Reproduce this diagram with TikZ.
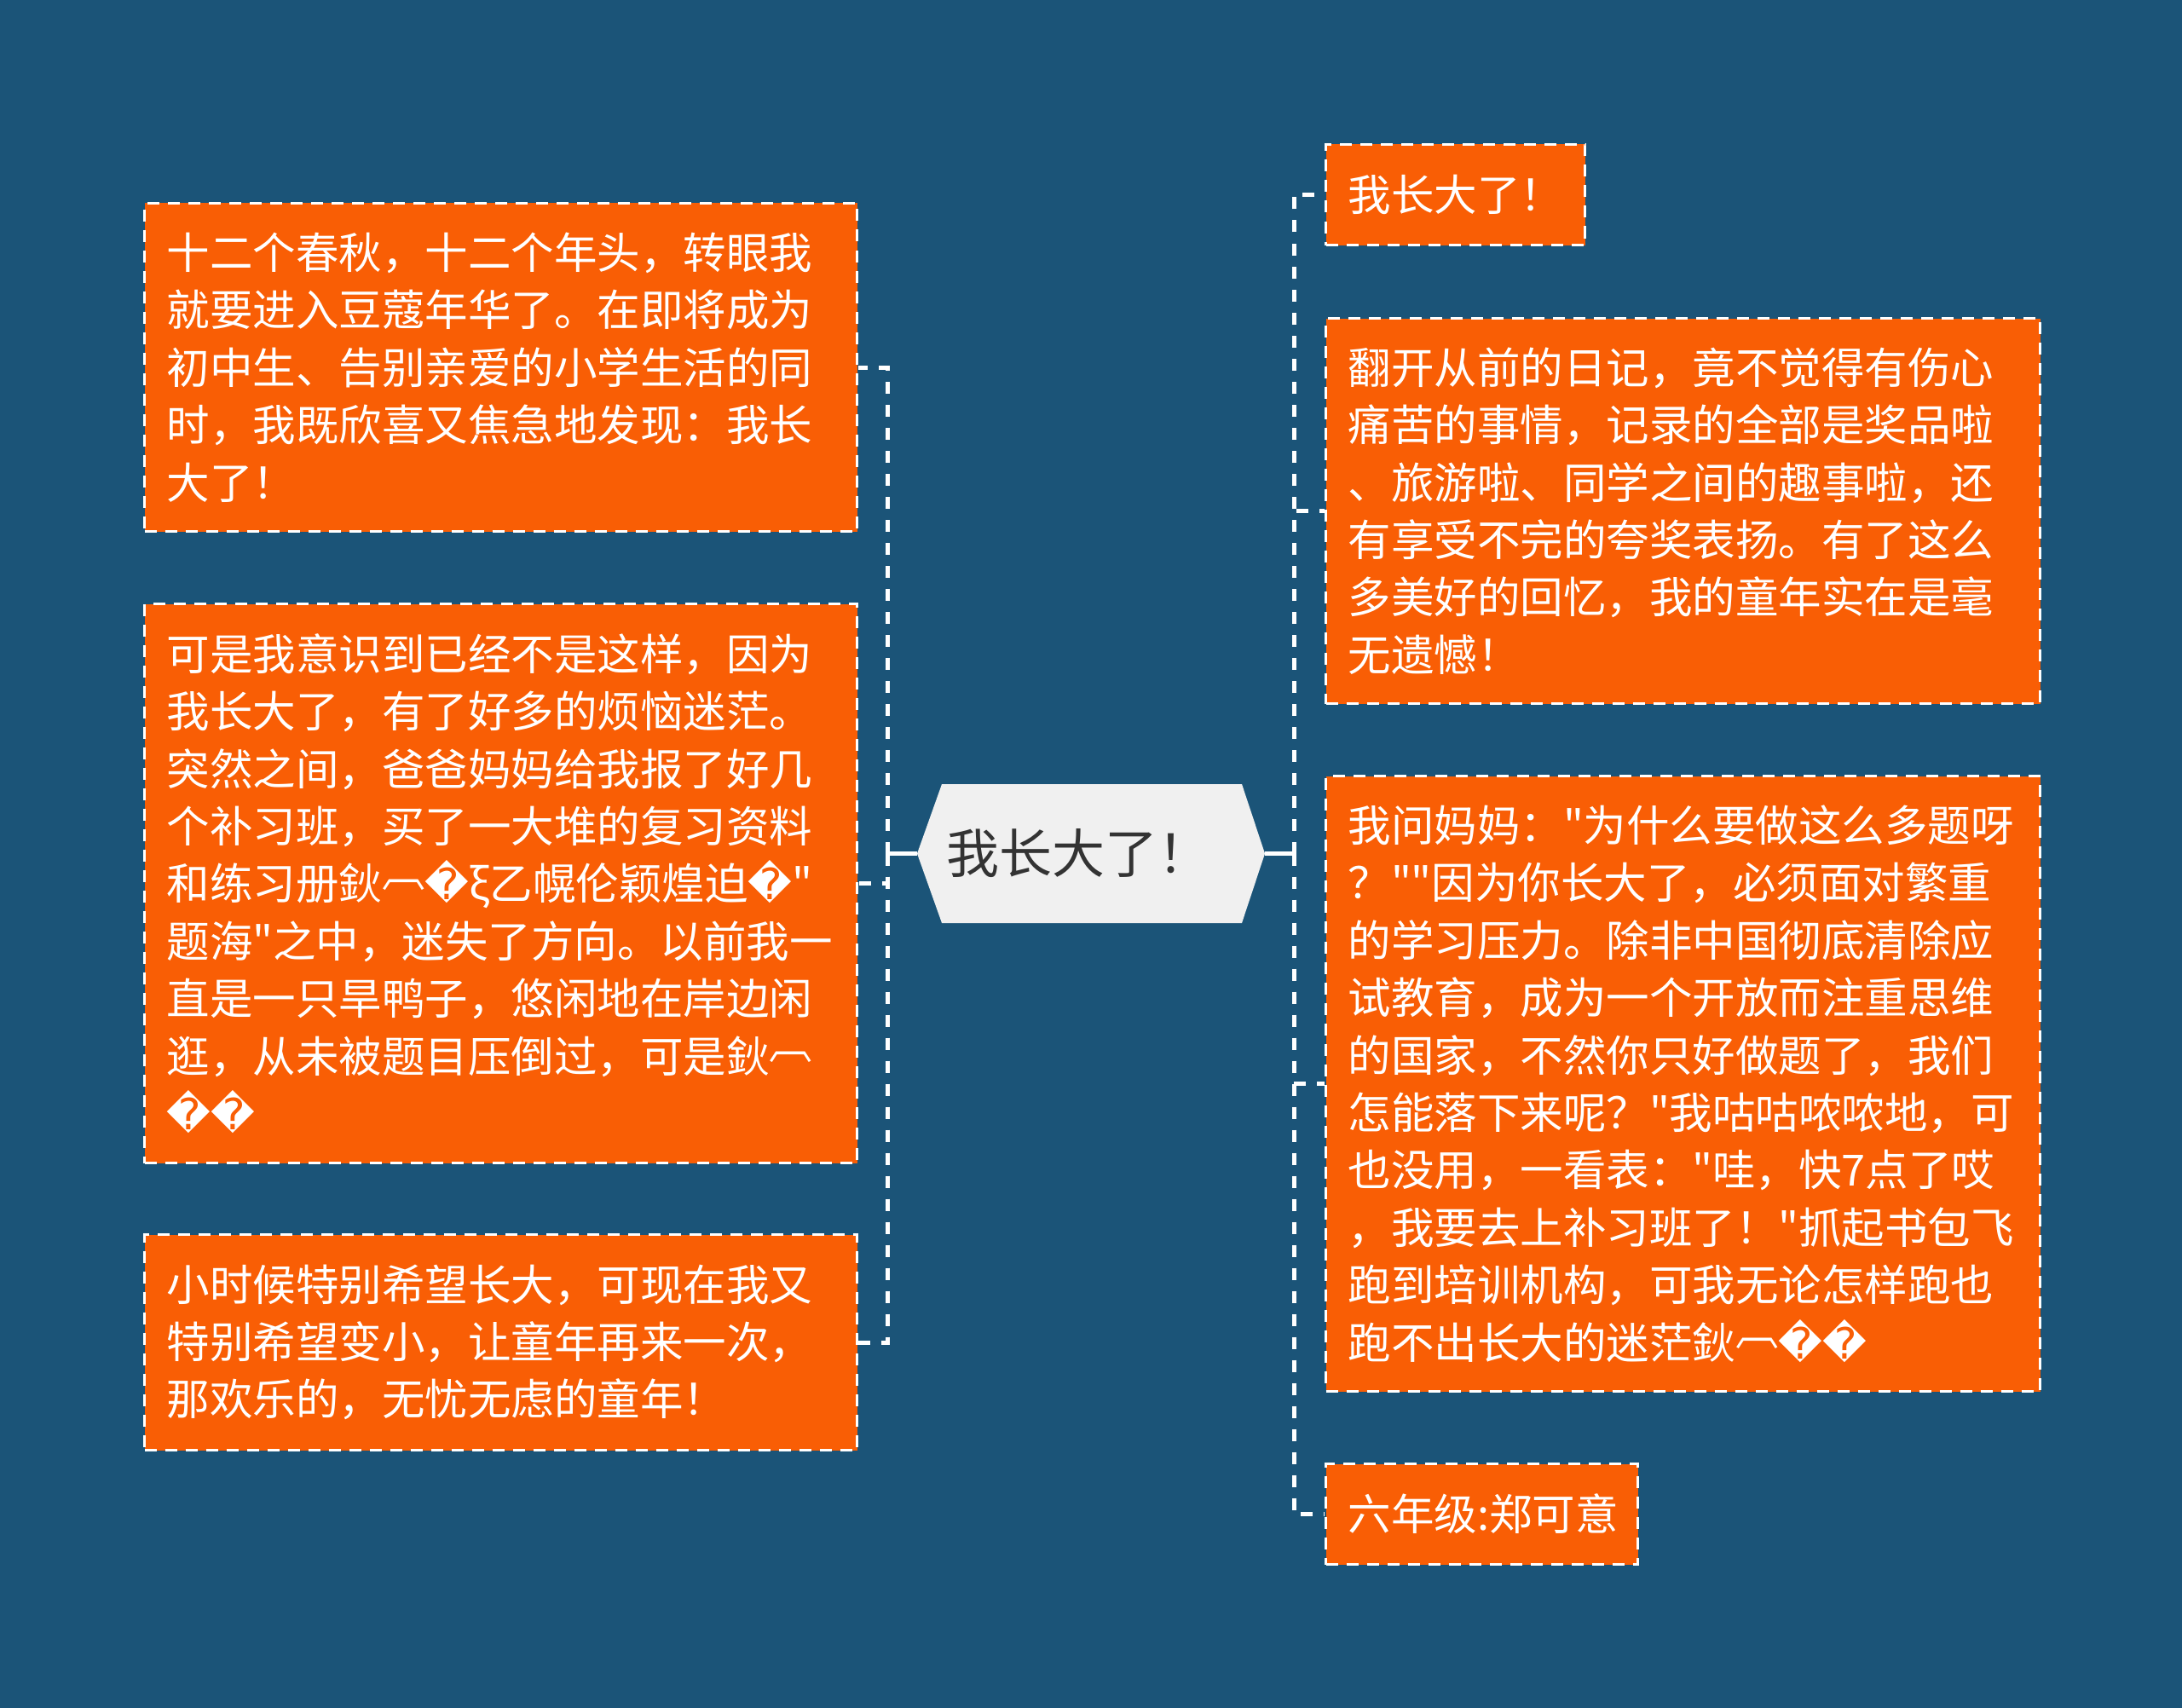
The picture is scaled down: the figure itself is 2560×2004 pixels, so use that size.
\documentclass[tikz,border=0pt]{standalone}
\usepackage{fontspec}
\setmainfont{Noto Sans CJK SC}[Ligatures=TeXOff]
\newfontfamily\dejavu{DejaVu Sans}
\newcommand{\repch}{{\dejavu\char"FFFD}}
\newcommand{\arcch}{\raisebox{0.3em}{︹}}
\definecolor{bg}{RGB}{27,84,120}
\definecolor{boxfill}{RGB}{249,94,5}
\definecolor{hexfill}{RGB}{240,240,240}
\definecolor{hextext}{RGB}{51,51,51}
\begin{document}
\begin{tikzpicture}[x=1pt,y=-1pt,
  box/.style={draw=white, line width=3pt, dash pattern=on 14pt off 10pt,
    fill=boxfill, text=white, align=left, inner xsep=26pt, inner ysep=0pt,
    anchor=north west, font=\fontsize{50.5}{67.4}\selectfont},
  conn/.style={draw=white, line width=5pt, dash pattern=on 14pt off 13pt},
  stub/.style={draw=white, line width=5pt},
  roottext/.style={text=hextext, font=\fontsize{62}{74}\selectfont, inner sep=0pt, anchor=west}]
\useasboundingbox (0,0) rectangle (2560,2004);
\fill[bg] (0,0) rectangle (2560,2004);

% central hexagon
\coordinate (hl) at (1076,1001.5);
\coordinate (hr) at (1484,1001.5);
\fill[hexfill] (hl) -- (1105,920) -- (1457,920) -- (hr) -- (1457,1083) -- (1105,1083) -- cycle;
\node[roottext] (root) at (1110,1001) {我长大了！};

% junctions
\coordinate (lj) at (1041,1001.5);
\coordinate (rj) at (1518,1001.5);

% left boxes
\node[box, text width=784pt, minimum height=385pt] (L1) at (168,237) {十二个春秋，十二个年头，转眼我\\就要进入豆蔻年华了。在即将成为\\初中生、告别亲爱的小学生活的同\\时，我既欣喜又焦急地发现：我长\\大了！};
\node[box, text width=784pt, minimum height=656pt] (L2) at (168,707) {可是我意识到已经不是这样，因为\\我长大了，有了好多的烦恼迷茫。\\突然之间，爸爸妈妈给我报了好几\\个补习班，买了一大堆的复习资料\\和练习册鈥\arcch\repch ξ乙幌伦颖煌迫\repch"\\题海"之中，迷失了方向。以前我一\\直是一只旱鸭子，悠闲地在岸边闲\\逛，从未被题目压倒过，可是鈥\arcch\\\repch\repch};
\node[box, text width=784pt, minimum height=253pt] (L3) at (168,1447) {小时候特别希望长大，可现在我又\\特别希望变小，让童年再来一次，\\那欢乐的，无忧无虑的童年！};

% right boxes
\node[box, text width=252pt, minimum height=118pt] (R1) at (1554,168) {我长大了！};
\node[box, text width=786pt, minimum height=452pt] (R2) at (1554,372) {翻开从前的日记，竟不觉得有伤心\\痛苦的事情，记录的全部是奖品啦\\、旅游啦、同学之间的趣事啦，还\\有享受不完的夸奖表扬。有了这么\\多美好的回忆，我的童年实在是毫\\无遗憾！};
\node[box, text width=786pt, minimum height=722pt] (R3) at (1554,909) {我问妈妈："为什么要做这么多题呀\\？""因为你长大了，必须面对繁重\\的学习压力。除非中国彻底清除应\\试教育，成为一个开放而注重思维\\的国家，不然你只好做题了，我们\\怎能落下来呢？"我咕咕哝哝地，可\\也没用，一看表："哇，快7点了哎\\，我要去上补习班了！"抓起书包飞\\跑到培训机构，可我无论怎样跑也\\跑不出长大的迷茫鈥\arcch\repch\repch};
\node[box, text width=314pt, minimum height=118pt] (R4) at (1554,1716) {六年级:郑可意};

% connectors
\draw[stub] (hl) -- (lj);
\draw[stub] (hr) -- (rj);
\draw[conn] (lj) |- (L1.east);
\draw[conn] (lj) |- (L2.east);
\draw[conn] (lj) |- (L3.east);
\draw[conn] (rj) |- (R1.west);
\draw[conn] (rj) |- (R2.west);
\draw[conn] (rj) |- (R3.west);
\draw[conn] (rj) |- (R4.west);
\end{tikzpicture}
\end{document}
